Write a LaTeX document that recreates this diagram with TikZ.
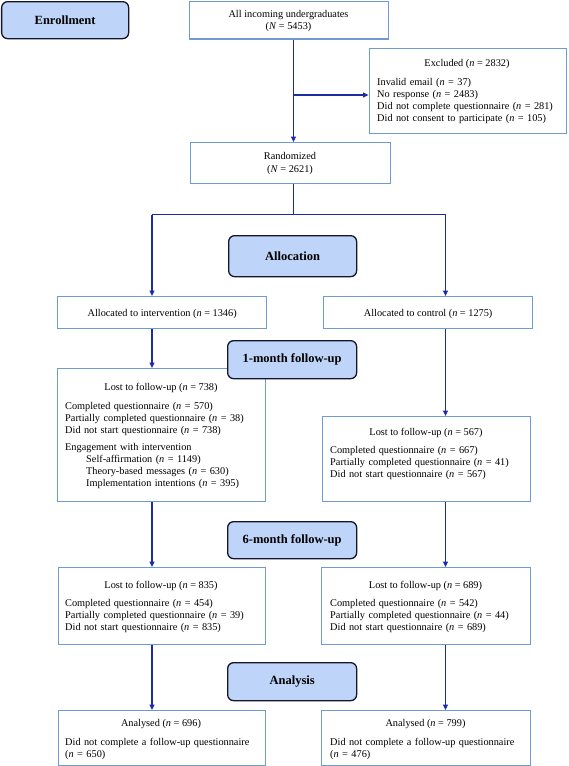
\documentclass[tikz,border=0pt]{standalone}
\usepackage{fontspec}
\setmainfont{Liberation Serif}
\usetikzlibrary{arrows.meta,calc}
\definecolor{conn}{RGB}{28,44,165}
\definecolor{boxline}{RGB}{110,155,210}
\definecolor{phasefill}{RGB}{190,212,248}
\definecolor{phaseline}{RGB}{20,20,45}
\newcommand{\nn}[1]{(\textit{n} = #1)}
\newcommand{\NN}[1]{(\textit{N} = #1)}
\begin{document}
\begin{tikzpicture}[x=1pt,y=-1pt,
  box/.style={draw=boxline,line width=1.3pt,fill=white,rectangle,inner sep=0pt,anchor=north west},
  phase/.style={draw=phaseline,line width=1.3pt,fill=phasefill,rounded corners=6pt,inner sep=0pt,anchor=north west},
  ptxt/.style={inner sep=0pt,font=\fontsize{12.5}{14}\selectfont\bfseries},
  txt/.style={inner sep=0pt,font=\fontsize{10.3}{12}\selectfont},
  ml/.style={txt,anchor=base west,align=left,text width=200pt},
  ctr/.style={txt,anchor=base},
  conline/.style={draw=conn,line width=1.6pt},
  arr/.style={conline,-{Triangle[length=5.5pt,width=5pt]}}]
\useasboundingbox (0,0) rectangle (568,766);

% coordinates for connector x positions
\coordinate (trunk) at (293.5,0);
\coordinate (xl) at (152,0);
\coordinate (xr) at (445.5,0);
\coordinate (exy) at (0,95);
\coordinate (splity) at (0,214.5);

% Enrollment
\node[phase,minimum width=127pt,minimum height=37pt] (enr) at (1,1) {};
\node[ptxt] (enrt) at (enr.center) {Enrollment};

% All incoming
\node[box,minimum width=199pt,minimum height=37.5pt] (allin) at (189,0.7) {};
\node[ctr] (allint1) at (288.5,17.5) {All incoming undergraduates};
\node[ctr] (allint2) at (288.5,29.5) {\NN{5453}};

% Excluded
\node[box,minimum width=197pt,minimum height=85pt] (excl) at (368.5,48) {};
\node[ctr] (exclh) at (467,66.5) {Excluded \nn{2832}};
\node[ml] (exclt) at (377,85) {Invalid email \nn{37}\\No response \nn{2483}\\Did not complete questionnaire \nn{281}\\Did not consent to participate \nn{105}};

% Randomized
\node[box,minimum width=200pt,minimum height=41pt] (rand) at (190,142) {};
\node[ctr] (randt1) at (290,159.5) {Randomized};
\node[ctr] (randt2) at (290,172.5) {\NN{2621}};

% Allocated
\node[box,minimum width=209pt,minimum height=32pt] (alli) at (57,296) {};
\node[ctr] (allit) at (alli.center |- 0,316.5) {Allocated to intervention \nn{1346}};
\node[box,minimum width=209pt,minimum height=32pt] (allc) at (323,296) {};
\node[ctr] (allct) at (allc.center |- 0,316.5) {Allocated to control \nn{1275}};

% 1-month boxes
\node[box,minimum width=208pt,minimum height=133pt] (m1i) at (57,368) {};
\node[ctr] (m1ih) at (161,390.5) {Lost to follow-up \nn{738}};
\node[ml] (m1it) at (65,409.5) {Completed questionnaire \nn{570}\\Partially completed questionnaire \nn{38}\\Did not start questionnaire \nn{738}};
\node[ml] (m1ie) at (65,450.5) {Engagement with intervention};
\node[ml] (m1ie2) at (86,462.5) {Self-affirmation \nn{1149}\\Theory-based messages \nn{630}\\Implementation intentions \nn{395}};

\node[box,minimum width=208pt,minimum height=85pt] (m1c) at (322,416) {};
\node[ctr] (m1ch) at (426,435.5) {Lost to follow-up \nn{567}};
\node[ml] (m1ct) at (330,453.5) {Completed questionnaire \nn{667}\\Partially completed questionnaire \nn{41}\\Did not start questionnaire \nn{567}};

% 6-month boxes
\node[box,minimum width=207.5pt,minimum height=77pt] (m6i) at (57.5,567) {};
\node[ctr] (m6ih) at (161,588.5) {Lost to follow-up \nn{835}};
\node[ml] (m6it) at (65,606) {Completed questionnaire \nn{454}\\Partially completed questionnaire \nn{39}\\Did not start questionnaire \nn{835}};

\node[box,minimum width=209pt,minimum height=77pt] (m6c) at (321,567) {};
\node[ctr] (m6ch) at (425.5,588.5) {Lost to follow-up \nn{689}};
\node[ml] (m6ct) at (330,606) {Completed questionnaire \nn{542}\\Partially completed questionnaire \nn{44}\\Did not start questionnaire \nn{689}};

% Analysis boxes
\node[box,minimum width=207.5pt,minimum height=55pt] (ani) at (57.5,710) {};
\node[ctr] (anih) at (161,726.5) {Analysed \nn{696}};
\node[ml] (anit) at (65,745) {Did not complete a follow-up questionnaire\\\nn{650}};

\node[box,minimum width=209pt,minimum height=55pt] (anc) at (321,710) {};
\node[ctr] (anch) at (425.5,726.5) {Analysed \nn{799}};
\node[ml] (anct) at (330,745) {Did not complete a follow-up questionnaire\\\nn{476}};

% Connectors
\draw[arr] (allin.south -| trunk) -- (rand.north -| trunk);
\draw[arr] (trunk |- exy) -- (excl.west |- exy);
\draw[conline] (rand.south -| trunk) -- (trunk |- splity);
\draw[arr] (xl |- splity) -- (alli.north -| xl);
\draw[arr] (xr |- splity) -- (allc.north -| xr);
\draw[conline] (xl |- splity) -- (xr |- splity);
\draw[arr] (alli.south -| xl) -- (m1i.north -| xl);
\draw[arr] (allc.south -| xr) -- (m1c.north -| xr);
\draw[arr] (m1i.south -| xl) -- (m6i.north -| xl);
\draw[arr] (m1c.south -| xr) -- (m6c.north -| xr);
\draw[arr] (m6i.south -| xl) -- (ani.north -| xl);
\draw[arr] (m6c.south -| xr) -- (anc.north -| xr);

% Phase boxes (drawn on top)
\node[phase,minimum width=128pt,minimum height=41pt] (alloc) at (228,235) {};
\node[ptxt] (alloct) at (alloc.center) {Allocation};
\node[phase,minimum width=129pt,minimum height=38pt] (mo1) at (227,340) {};
\node[ptxt] (mo1t) at (mo1.center) {1-month follow-up};
\node[phase,minimum width=129pt,minimum height=37pt] (mo6) at (227,521) {};
\node[ptxt] (mo6t) at (mo6.center) {6-month follow-up};
\node[phase,minimum width=129pt,minimum height=38pt] (ana) at (227,662) {};
\node[ptxt] (anat) at (ana.center) {Analysis};
\end{tikzpicture}
\end{document}
